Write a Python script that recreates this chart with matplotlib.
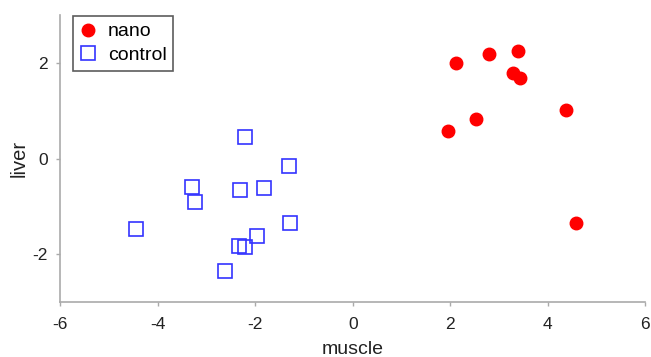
import matplotlib
matplotlib.use("Agg")
import matplotlib.pyplot as plt

nano_x = [2.12, 2.79, 3.39, 3.29, 3.43, 4.38, 2.52, 1.96, 4.58]
nano_y = [2.00, 2.18, 2.24, 1.78, 1.69, 1.02, 0.82, 0.57, -1.34]
ctrl_x = [-4.45, -3.29, -3.24, -2.20, -2.32, -1.83, -1.31, -1.29, -1.97, -2.33, -2.21, -2.63]
ctrl_y = [-1.48, -0.60, -0.90, 0.44, -0.65, -0.62, -0.15, -1.35, -1.61, -1.82, -1.84, -2.36]
xticks = [-6, -4, -2, 0, 2, 4, 6]
yticks = [-2, 0, 2]

plt.rcParams['font.family'] = ['Liberation Sans', 'DejaVu Sans']
plt.rcParams['axes.unicode_minus'] = False
fig = plt.figure(figsize=(6.51, 3.57), dpi=100)
ax = fig.add_axes([0.0926, 0.154, 0.8984, 0.804])

ax.plot(nano_x, nano_y, 'o', ms=9, color='#FF0000', mec='#FF0000', label='nano')
ax.plot(ctrl_x, ctrl_y, 's', ms=9.5, mfc='none', mec='#3333FF', mew=1.2, label='control')

ax.set_xlim(-6, 6)
ax.set_ylim(-3, 3)
ax.set_xticks(xticks)
ax.set_yticks(yticks)
for s in ['top', 'right']:
    ax.spines[s].set_visible(False)
for s in ['left', 'bottom']:
    ax.spines[s].set_color('#AAAAAA')
    ax.spines[s].set_linewidth(1.2)
ax.tick_params(colors='#AAAAAA', labelcolor='#222222', labelsize=12.5, length=3, width=1)
ax.tick_params(axis='x', pad=7.5)
ax.tick_params(axis='y', pad=6)
ax.set_xlabel('muscle', fontsize=14, color='#222222', labelpad=7)
ax.set_ylabel('liver', fontsize=14.5, color='#222222', labelpad=3)

leg = ax.legend(loc='upper left', bbox_to_anchor=(0.015, 1.01), fontsize=14, frameon=True,
                fancybox=False, edgecolor='#333333', handlelength=0.9, handletextpad=0.55,
                borderpad=0.35, labelspacing=0.32, borderaxespad=0.2)
leg.get_frame().set_linewidth(1.2)

fig.savefig('out.png', dpi=100)
